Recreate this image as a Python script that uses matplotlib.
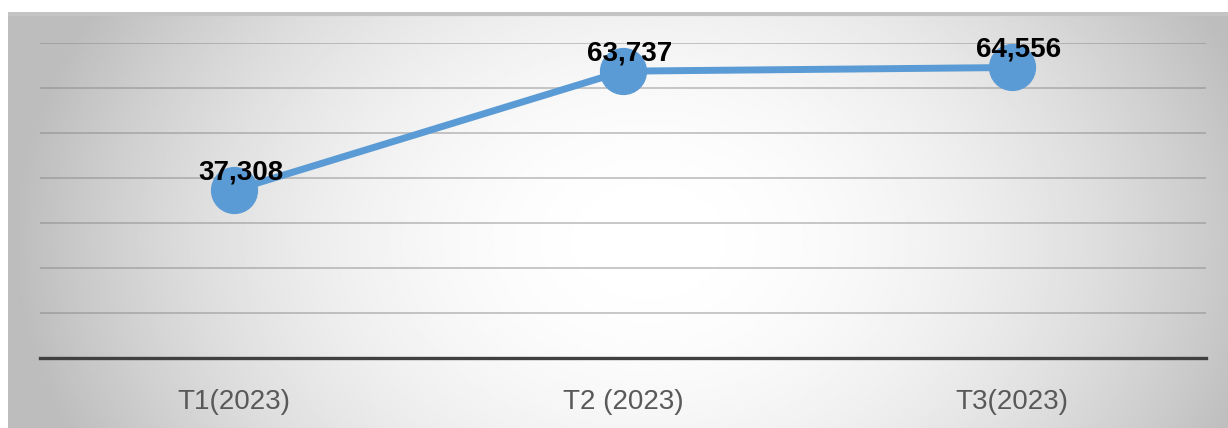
import matplotlib.pyplot as plt
import numpy as np

# data
categories = ["T1(2023)", "T2 (2023)", "T3(2023)"]
values = [37308, 63737, 64556]
labels = ["37,308", "63,737", "64,556"]

W, H = 1228, 428
fig = plt.figure(figsize=(W / 100, H / 100), dpi=100)
fig.patch.set_facecolor("white")

# radial gradient background panel
bg = fig.add_axes([8 / W, 0, 1 - 8 / W, (H - 12) / H])
bg.set_axis_off()
nx, ny = 600, 220
xx, yy = np.meshgrid(np.linspace(-1, 1, nx), np.linspace(-1, 1, ny))
r = np.sqrt((xx - 0.05) ** 2 + (0.45 * (yy - 0.1)) ** 2)
shade = np.clip(1 - 0.24 * r ** 2, 0.74, 1.0)
bg.imshow(shade, cmap="gray", vmin=0, vmax=1, aspect="auto",
          extent=(0, 1, 0, 1), interpolation="bilinear")
bg.axhline(0.995, color="#c4c4c4", lw=3)
bg.set_xlim(0, 1)
bg.set_ylim(0, 1)

# main chart
ax = fig.add_axes([40 / W, 1 - 358 / H, (1206 - 40) / W, (358 - 43) / H])
ax.patch.set_alpha(0)
x = np.arange(len(categories))
ax.plot(x, values, color="#5b9bd5", lw=5, marker="o", ms=33,
        solid_capstyle="round", zorder=3)
for xi, v, lab in zip(x, values, labels):
    ax.annotate(lab, (xi, v), xytext=(5, 13), textcoords="offset points",
                ha="center", va="center", fontsize=20, fontweight="bold",
                family="Liberation Sans", color="black", zorder=4)

ax.set_xlim(-0.5, 2.5)
ax.set_ylim(0, 70000)
ax.set_yticks(np.arange(10000, 70001, 10000))
ax.yaxis.grid(True, color="#808080", alpha=0.5, lw=1.2)
ax.set_axisbelow(True)
ax.set_xticks(x)
ax.set_xticklabels(categories, fontsize=20, color="#595959",
                   family="Liberation Sans")
ax.tick_params(axis="x", length=0, pad=22)
ax.tick_params(axis="y", length=0, labelleft=False)
for s in ["left", "right", "top"]:
    ax.spines[s].set_visible(False)
ax.spines["bottom"].set_color("#404040")
ax.spines["bottom"].set_linewidth(2.4)

fig.savefig("out.png", dpi=100)
